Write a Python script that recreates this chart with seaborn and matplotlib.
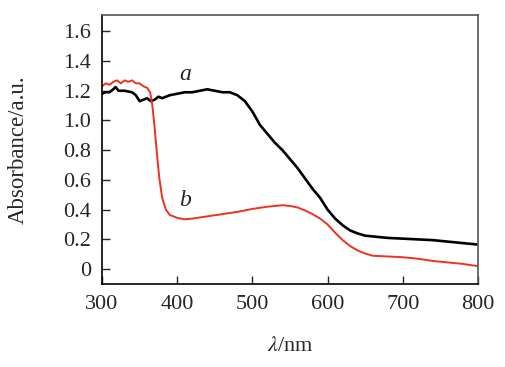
import numpy as np
import pandas as pd
import matplotlib
matplotlib.use("Agg")
import matplotlib.pyplot as plt
import seaborn as sns

# Curve a (black)
wl_a = [300, 305, 310, 315, 318, 322, 330, 340, 345, 350, 355, 360, 365, 370, 375,
        380, 390, 400, 410, 420, 430, 440, 450, 460, 470, 480, 490, 500, 510, 520,
        530, 540, 550, 560, 570, 580, 590, 600, 610, 620, 630, 640, 650, 660, 680,
        700, 720, 740, 760, 780, 800]
abs_a = [1.18, 1.19, 1.19, 1.21, 1.225, 1.20, 1.20, 1.19, 1.17, 1.13, 1.14, 1.15, 1.13, 1.14, 1.16,
         1.15, 1.17, 1.18, 1.19, 1.19, 1.20, 1.21, 1.20, 1.19, 1.19, 1.17, 1.13, 1.06, 0.97, 0.91,
         0.85, 0.80, 0.74, 0.68, 0.61, 0.54, 0.48, 0.40, 0.34, 0.295, 0.26, 0.24, 0.225, 0.22, 0.21,
         0.205, 0.20, 0.195, 0.185, 0.175, 0.165]

# Curve b (red)
wl_b = [300, 305, 310, 315, 320, 325, 330, 335, 340, 345, 350, 355, 360, 364, 367,
        370, 373, 376, 380, 385, 390, 400, 410, 420, 440, 460, 480, 500, 520, 540,
        550, 560, 570, 580, 590, 600, 610, 620, 630, 640, 650, 660, 680, 700, 720,
        740, 760, 780, 800]
abs_b = [1.23, 1.25, 1.24, 1.26, 1.27, 1.25, 1.27, 1.26, 1.27, 1.25, 1.25, 1.23, 1.22, 1.19, 1.10,
         0.95, 0.78, 0.62, 0.48, 0.40, 0.365, 0.345, 0.335, 0.34, 0.355, 0.37, 0.385, 0.405, 0.42, 0.43,
         0.425, 0.415, 0.395, 0.37, 0.34, 0.30, 0.245, 0.195, 0.155, 0.125, 0.105, 0.09, 0.085, 0.08, 0.07,
         0.055, 0.045, 0.035, 0.02]

xticks = [300, 400, 500, 600, 700, 800]
yticks = [0, 0.2, 0.4, 0.6, 0.8, 1.0, 1.2, 1.4, 1.6]
ytick_labels = ["0", "0.2", "0.4", "0.6", "0.8", "1.0", "1.2", "1.4", "1.6"]

df = pd.concat([
    pd.DataFrame({"wl": wl_a, "abs": abs_a, "sample": "a"}),
    pd.DataFrame({"wl": wl_b, "abs": abs_b, "sample": "b"}),
])

sns.set_style("ticks")
plt.rcParams['font.family'] = ['Liberation Serif', 'DejaVu Serif']
plt.rcParams['mathtext.fontset'] = 'stix'

fig = plt.figure(figsize=(5.06, 3.67), dpi=100)
ax = fig.add_axes([0.2016, 0.2262, 0.7431, 0.7330])

sns.lineplot(data=df, x="wl", y="abs", hue="sample", palette={"a": "black", "b": "#f03020"},
             linewidth=1.6, legend=False, ax=ax)
# black trace is drawn a bit heavier than the red one
ax.lines[0].set_linewidth(1.9)
ax.lines[1].set_linewidth(1.4)

ax.set_xlim(300, 800)
ax.set_ylim(-0.1, 1.71)
ax.set_xticks(xticks)
ax.set_yticks(yticks)
ax.set_yticklabels(ytick_labels)
ax.tick_params(direction="in", length=6, width=1, labelsize=16, pad=8, top=False, right=False)

for side in ["left", "bottom"]:
    ax.spines[side].set_color("black")
    ax.spines[side].set_linewidth(1.2)
for side in ["top", "right"]:
    ax.spines[side].set_visible(True)
    ax.spines[side].set_color("#555555")
    ax.spines[side].set_linewidth(1.2)

ax.set_xlabel(r"$\lambda$/nm", fontsize=16)
ax.set_ylabel("Absorbance/a.u.", fontsize=16.5)
ax.xaxis.set_label_coords(0.5, -0.234)
ax.yaxis.set_label_coords(-0.223, 0.5)
ax.xaxis.label.set_va("center")
ax.yaxis.label.set_va("center")

ax.text(411, 1.31, "a", fontsize=17, style="italic", ha="center", va="center")
ax.text(411, 0.46, "b", fontsize=17, style="italic", ha="center", va="center")

fig.savefig("out.png", dpi=100)
